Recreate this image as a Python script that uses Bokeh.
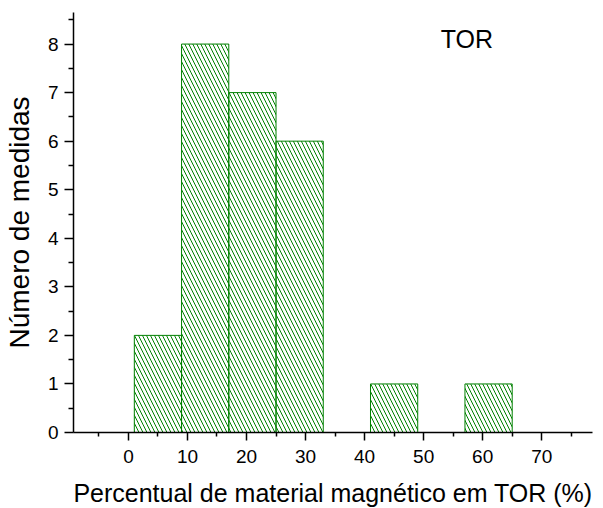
from bokeh.plotting import figure
from bokeh.models import Range1d, FixedTicker, Label
from bokeh.embed import file_html
from bokeh.resources import INLINE

# Data: histogram bins (percent) and counts
bin_left = [1, 9, 17, 25, 41, 57]
bin_right = [9, 17, 25, 33, 49, 65]
counts = [2, 8, 7, 6, 1, 1]
x_major = [0, 10, 20, 30, 40, 50, 60, 70]
x_minor = [-5, 5, 15, 25, 35, 45, 55, 65, 75]
y_major = [0, 1, 2, 3, 4, 5, 6, 7, 8]
y_minor = [0.5, 1.5, 2.5, 3.5, 4.5, 5.5, 6.5, 7.5, 8.5]
annotation = "TOR"

FONT = "Liberation Sans"
GREEN = "#008000"

p = figure(width=603, height=508, output_backend="svg", toolbar_location=None,
           x_range=Range1d(-9.3, 78.6), y_range=Range1d(0, 8.65),
           frame_width=519, frame_height=420,
           min_border_left=73, min_border_top=12, min_border_right=11, min_border_bottom=76)
p.outline_line_color = None
p.grid.visible = False
p.background_fill_color = "white"
p.border_fill_color = "white"

p.quad(left=bin_left, right=bin_right, top=counts, bottom=[0] * len(counts),
       fill_color=None, line_color=GREEN, line_width=1,
       hatch_pattern="\\", hatch_color=GREEN, hatch_scale=8, hatch_weight=1)

p.xaxis.ticker = FixedTicker(ticks=x_major, minor_ticks=x_minor)
p.yaxis.ticker = FixedTicker(ticks=y_major, minor_ticks=y_minor)

for ax in (p.xaxis[0], p.yaxis[0]):
    ax.axis_line_color = "black"
    ax.axis_line_width = 1.5
    ax.major_tick_line_color = "black"
    ax.minor_tick_line_color = "black"
    ax.major_tick_line_width = 1.5
    ax.minor_tick_line_width = 1.5
    ax.major_tick_in = 0
    ax.minor_tick_in = 0
    ax.major_label_text_font = FONT
    ax.major_label_text_font_size = "19px"
    ax.major_label_text_color = "black"
    ax.axis_label_text_font = FONT
    ax.axis_label_text_font_style = "normal"
    ax.axis_label_text_color = "black"

p.xaxis.axis_label_text_font_size = "25px"
p.yaxis.axis_label_text_font_size = "28px"
p.xaxis.major_tick_out = 8
p.xaxis.minor_tick_out = 4
p.yaxis.major_tick_out = 9
p.yaxis.minor_tick_out = 5
p.xaxis.major_label_standoff = 9
p.yaxis.major_label_standoff = 6
p.xaxis.axis_label = "Percentual de material magnético em TOR (%)"
p.yaxis.axis_label = "Número de medidas"
p.xaxis.axis_label_standoff = 13
p.yaxis.axis_label_standoff = 10

p.add_layout(Label(x=52.9, y=8.1, text=annotation,
                   text_font=FONT, text_font_size="25px", text_color="black",
                   text_baseline="alphabetic"))

open("out.html", "w").write(file_html(p, INLINE))
